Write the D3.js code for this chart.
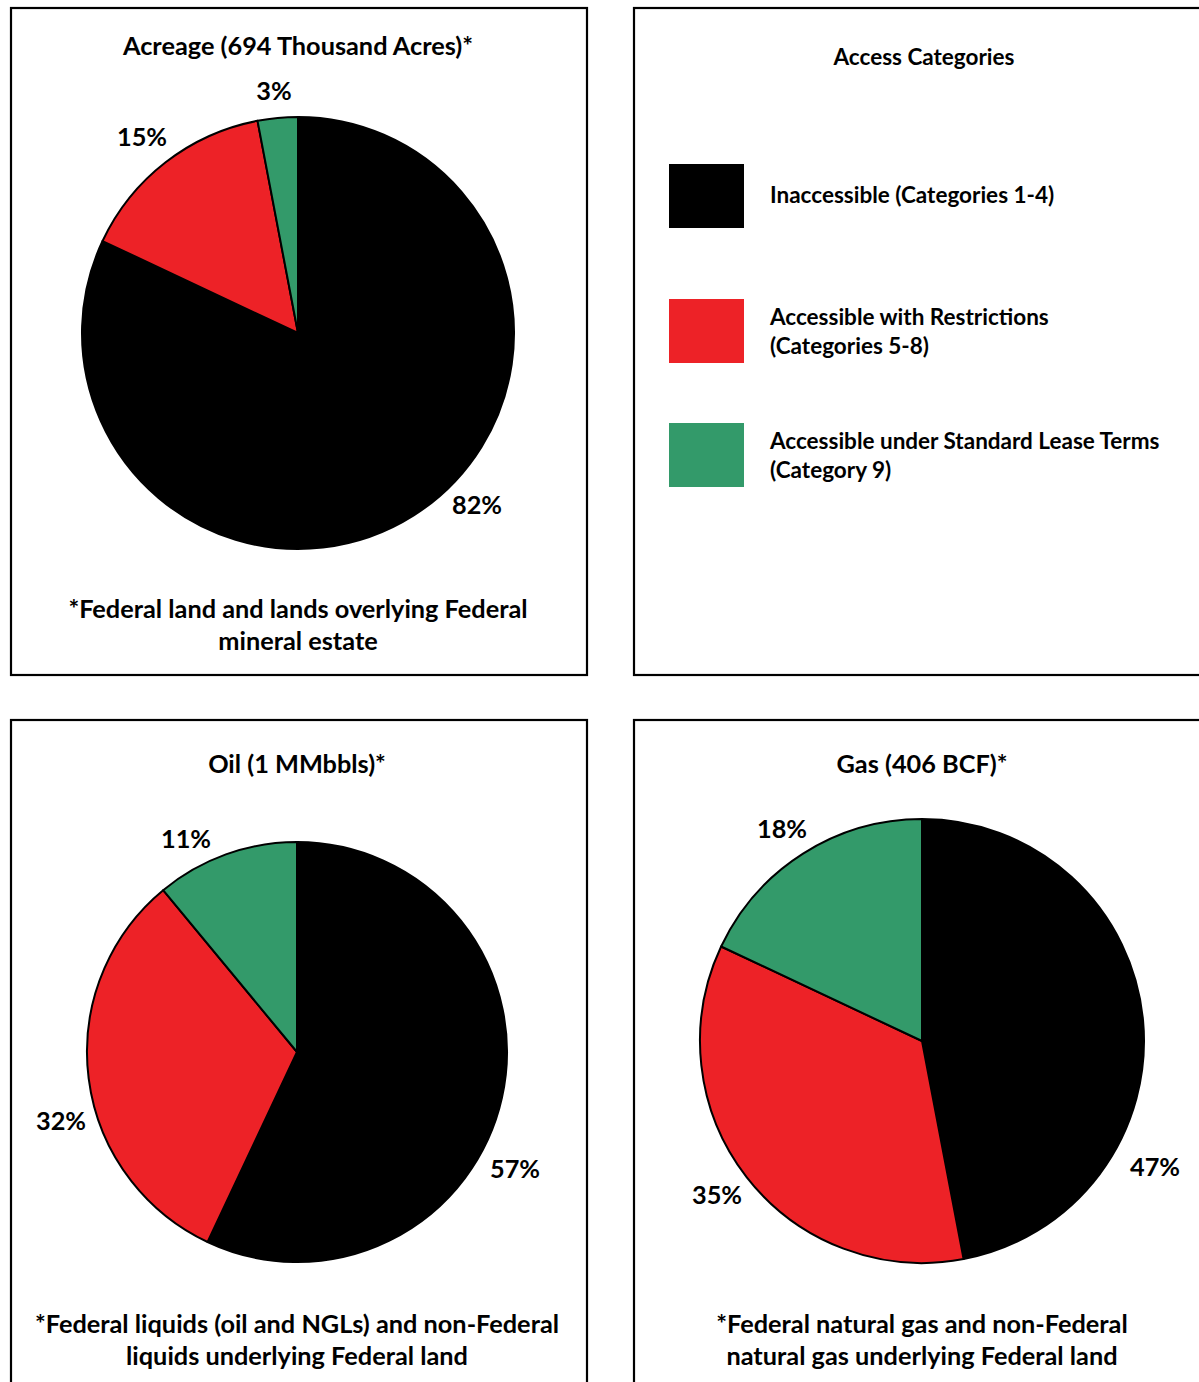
<!DOCTYPE html>
<html><head><meta charset="utf-8">
<script src="https://cdn.jsdelivr.net/npm/d3@7"></script>
<style>
html,body{margin:0;padding:0;background:#fff;}
svg text{font-family:Lato,"Open Sans",sans-serif;font-weight:700;fill:#000;}
</style></head>
<body>
<svg id="chart" width="1199" height="1382"></svg>
<script>
// ---- data ----
const categories = ["Inaccessible (Categories 1-4)", "Accessible with Restrictions (Categories 5-8)", "Accessible under Standard Lease Terms (Category 9)"];
const legendLines = [["Inaccessible (Categories 1-4)"], ["Accessible with Restrictions", "(Categories 5-8)"], ["Accessible under Standard Lease Terms", "(Category 9)"]];
const acreageValues = [82, 15, 3];
const oilValues = [57, 32, 11];
const gasValues = [47, 35, 18];
const chartTitles = ["Acreage (694 Thousand Acres)*", "Oil (1 MMbbls)*", "Gas (406 BCF)*"];
const footnotes = [
  ["*Federal land and lands overlying Federal", "mineral estate"],
  ["*Federal liquids (oil and NGLs) and non-Federal", "liquids underlying Federal land"],
  ["*Federal natural gas and non-Federal", "natural gas underlying Federal land"]
];
const legendTitle = "Access Categories";
const colors = ["#000000", "#ED2227", "#339A6A"];

const svg = d3.select("#chart");
const color = d3.scaleOrdinal().domain(categories).range(colors);

// panels
const panels = [
  {x: 11, y: 8, w: 576, h: 667},
  {x: 634, y: 8, w: 600, h: 667},
  {x: 11, y: 720, w: 576, h: 700},
  {x: 634, y: 720, w: 600, h: 700}
];
svg.selectAll("rect.panel").data(panels).enter().append("rect")
  .attr("class", "panel")
  .attr("x", d => d.x).attr("y", d => d.y).attr("width", d => d.w).attr("height", d => d.h)
  .attr("fill", "none").attr("stroke", "#000").attr("stroke-width", 2.2);

const pies = [
  {values: acreageValues, cx: 298, cy: 333, r: 216, title: chartTitles[0], ty: 55, foot: footnotes[0], fy: 618,
   labels: [[477, 514], [142, 146], [274, 100]]},
  {values: oilValues, cx: 297, cy: 1052, r: 210, title: chartTitles[1], ty: 773, foot: footnotes[1], fy: 1333,
   labels: [[515, 1178], [61, 1130], [186, 848]]},
  {values: gasValues, cx: 922, cy: 1041, r: 222, title: chartTitles[2], ty: 773, foot: footnotes[2], fy: 1333,
   labels: [[1155, 1176], [717, 1204], [782, 838]]}
];

const pie = d3.pie().sort(null).value(d => d.v);
const bigFont = 25.3;

pies.forEach(p => {
  const g = svg.append("g").attr("transform", `translate(${p.cx},${p.cy})`);
  const arc = d3.arc().innerRadius(0).outerRadius(p.r);
  const data = pie(p.values.map((v, i) => ({v, cat: categories[i]})));
  g.selectAll("path").data(data).enter().append("path")
    .attr("d", arc)
    .attr("fill", d => color(d.data.cat))
    .attr("stroke", "#000").attr("stroke-width", 2).attr("stroke-linejoin", "round");
  // labels
  svg.selectAll(null).data(data).enter().append("text")
    .attr("x", (d, i) => p.labels[i][0]).attr("y", (d, i) => p.labels[i][1])
    .attr("text-anchor", "middle").attr("font-size", bigFont)
    .text(d => d.data.v + "%");
  // title
  svg.append("text").attr("x", p.cx).attr("y", p.ty).attr("text-anchor", "middle")
    .attr("font-size", bigFont).text(p.title);
  // footnote
  svg.selectAll(null).data(p.foot).enter().append("text")
    .attr("x", p.cx).attr("y", (d, i) => p.fy + i * 32).attr("text-anchor", "middle")
    .attr("font-size", bigFont).text(d => d);
});

// legend
svg.append("text").attr("x", 924).attr("y", 65).attr("text-anchor", "middle")
  .attr("font-size", 22.5).text(legendTitle);
const legendY = [164, 299, 423];
const lg = svg.selectAll("g.leg").data(categories).enter().append("g").attr("class", "leg")
  .attr("transform", (d, i) => `translate(669,${legendY[i]})`);
lg.append("rect").attr("width", 75).attr("height", 64).attr("fill", d => color(d));
lg.each(function(d, i) {
  const lines = legendLines[i];
  const g = d3.select(this);
  const y0 = lines.length === 1 ? 39 : 26;
  lines.forEach((t, j) => {
    g.append("text").attr("x", 101).attr("y", y0 + j * 29).attr("font-size", 22.5).text(t);
  });
});
</script>
</body></html>
